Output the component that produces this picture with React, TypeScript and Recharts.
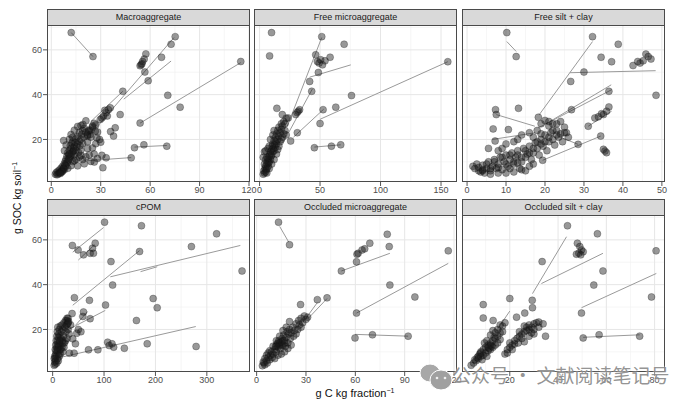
import * as React from "react";
import { ScatterChart, Scatter, XAxis, YAxis, CartesianGrid, ReferenceLine } from "recharts";

type P = [number, number];
type Seg = [number, number, number, number];

// ---- Macroaggregate ----
const macroPoints: P[] = [
  [12.1, 67.7], [25.3, 57.0], [75.2, 65.9], [72.7, 62.5], [66.9, 56.7], [57.4, 58.2], [56.4, 55.9], [55.4, 54.8],
  [54.5, 53.3], [53.9, 52.9], [55.0, 53.8], [56.8, 50.1], [58.8, 46.2], [115, 54.8], [70.7, 39.7], [78.2, 34.4],
  [53.9, 27.3], [43.4, 41.5], [41.8, 31.1], [38.8, 25.2], [50.5, 16.3], [56.2, 17.6], [70.1, 17.0], [48.5, 11.8],
  [33.3, 11.8], [31.3, 7.4], [26.1, 9.9], [30.7, 12.9], [19.2, 26.7],
  [34.7, 33.3], [33.3, 31.9], [35.8, 34.1], [31.7, 30.4], [30.7, 29.6], [29.7, 28.9], [32.5, 33.0], [34.0, 30.5],
  [28.1, 23.3], [26.7, 23.7], [24.0, 24.1], [22.6, 23.7], [23.6, 22.2], [22.0, 21.5], [27.7, 20.7], [29.3, 20.0],
  [37.8, 21.5], [36.0, 23.5], [25.0, 25.5], [27.0, 26.5],
  [2.5, 4.5], [3, 5.2], [3.5, 4.2], [4, 5.8], [4.2, 4.6], [4.8, 5.1], [5, 6.4], [5.5, 5.2], [6, 5.6], [6, 7.2],
  [6.5, 6.2], [7, 6.0], [7, 8.1], [7.5, 7.3], [8, 9.2], [8, 6.6], [8.5, 10.3], [9, 8.1], [9, 11.2], [9.5, 12.6],
  [10, 10.2], [10, 14.1], [10.5, 13.1], [11, 15.2], [11, 11.6], [11.5, 17.2], [12, 13.0], [12, 16.1], [12.5, 18.3],
  [13, 14.6], [13, 19.1], [13.5, 16.2], [14, 17.1], [14, 13.2], [14.5, 18.6], [15, 20.2], [15, 15.1], [15.5, 16.6],
  [16, 18.1], [16, 21.3], [16.5, 14.2], [17, 19.2], [17, 23.1], [17.5, 17.2], [18, 20.1], [18, 15.2], [18.5, 22.3],
  [19, 24.0], [19, 18.2], [20, 21.1], [20, 25.0], [21, 23.2], [22, 22.1], [22, 19.0], [23, 24.2], [24, 21.0],
  [25, 26.0], [26, 27.2],
  [13, 10.1], [15, 11.2], [17, 12.1], [19, 11.0], [21, 12.3], [23, 13.1], [24, 10.2], [20, 9.1], [16, 8.2],
  [12, 8.3], [10, 7.1], [22, 16.0], [25, 16.2], [27, 18.1], [30, 18.8], [18, 12.8], [14, 10.5], [26, 13.5], [28, 11.5],
  [7.5, 19.5], [9, 17.5], [11, 20.1], [12, 22.2], [14, 24.1], [16, 25.8], [18, 26.2], [21, 28.3], [13, 21.0], [8, 15.0],
  [9.5, 9.5], [10.5, 11], [11.5, 12.5], [12.5, 14], [8.5, 8.5], [7.5, 7.0], [6.5, 5.5], [5.5, 4.8], [13.5, 15], [11, 13.5],
];
const macroLines: Seg[] = [
  [12.1, 67.7, 25.3, 57.0],
  [27, 25, 74.5, 65.5],
  [44, 38, 72.7, 55],
  [53.9, 27.3, 115, 54.3],
  [50.5, 16.6, 70.1, 17.3],
  [20, 10.4, 48.5, 11.9],
  [24, 28, 43.4, 41.5],
];

// ---- Free microaggregate ----
const freeMicroPoints: P[] = [
  [9.9, 67.7], [8.3, 57.3], [51.4, 65.9], [69.9, 62.5], [46.4, 57.8], [50.5, 55.6], [49.2, 54.1], [52, 53.3],
  [47.8, 54.8], [54.1, 55.1], [58.3, 56.7], [48.6, 49.9], [41.4, 45.9], [43.1, 41.5], [76, 39.6], [155.6, 54.7],
  [14.3, 33.9], [18.8, 31.1], [23.7, 29.6], [29.9, 31.1], [32, 32.6], [33.1, 33.3], [31, 32], [52.5, 33.3],
  [63, 34.4], [50, 27.1], [31.2, 23], [25.7, 19.3], [45.3, 16.3], [59.4, 17], [67.1, 17.6],
  [3, 4.5], [3.5, 6], [4, 5], [4.5, 7], [5, 5.5], [5, 8], [5.5, 6.5], [6, 9], [6, 7], [6.5, 10], [7, 8], [7, 11.5],
  [7.5, 9.5], [8, 12.5], [8, 10], [8.5, 13.5], [9, 11], [9, 14.5], [9.5, 12.5], [10, 15.5], [10, 13], [10.5, 17],
  [11, 14.5], [11, 18], [11.5, 16], [12, 19.5], [12, 15], [12.5, 17.5], [13, 21], [13, 16.5], [13.5, 19], [14, 22.5],
  [14, 18], [15, 20], [15, 24], [16, 21.5], [16, 25.5], [17, 23], [18, 24.5], [18, 27], [19, 26], [20, 28], [21, 27],
  [22, 29.5], [4, 9], [5, 11], [6, 12], [3, 12], [4, 14.5], [5, 15], [7, 16], [8, 17], [9, 20], [11, 22], [12, 24],
  [17, 19], [19, 21], [21, 24], [22, 22], [10, 9], [12, 11], [14, 13.5], [15, 15.5], [16, 17], [18, 20], [20, 22.5],
  [6, 5], [8, 7],
];
const freeMicroLines: Seg[] = [
  [23, 26, 51.4, 65.5],
  [41.4, 47.8, 75.4, 53.3],
  [24, 23, 43.6, 42.5],
  [28, 21, 53, 33.5],
  [50, 29, 155.6, 54.7],
  [45.3, 16.6, 67.1, 17.6],
];

// ---- Free silt + clay ----
const freeSiltPoints: P[] = [
  [10.2, 67.7], [12.6, 57], [32.2, 65.9], [38.8, 62.5], [34.4, 56.7], [37.1, 54.7], [45.9, 58.1], [47.2, 55.9],
  [43.8, 54.8], [44.4, 54.1], [42.6, 53], [45.2, 55.1], [46.5, 57], [30, 50.1], [26.6, 45.9], [48.5, 39.7],
  [36.4, 41.5], [13.2, 33.9], [7.3, 33.3], [7.5, 31.1], [26.8, 33.3], [36.4, 34.5], [35.8, 32.6], [35, 31.1],
  [33.7, 30.1], [32.8, 29.6], [34.5, 31.5], [18.3, 29.9], [31.1, 25.9], [34.3, 21.5], [35, 15.6], [35.4, 14.8],
  [35.8, 14.1], [28.5, 17.8], [19.4, 10.7], [6.7, 24.7], [10.6, 24.4], [5.5, 16], [7.2, 19.3],
  [1.5, 8], [2, 7], [2.5, 9], [3, 6], [3.5, 5.5], [4, 8.5], [4.5, 5], [5, 7], [5.5, 10], [6, 6], [6.5, 8], [7, 11],
  [7.5, 7], [8, 9], [8.5, 12], [9, 6.5], [9.5, 10], [10, 13], [10.5, 8], [11, 11], [11.5, 14], [12, 9], [12.5, 12],
  [13, 15], [13.5, 7], [14, 10], [14.5, 16], [15, 12], [15.5, 13.5], [16, 17], [16.5, 11], [17, 14], [17.5, 18.5],
  [18, 16], [18.5, 13], [19, 20], [19.5, 17], [20, 22], [20.5, 15], [21, 19], [21.5, 23], [22, 20], [22.5, 17.5],
  [23, 24], [23.5, 21], [24, 22.5], [24.5, 19], [25, 25.5], [25.5, 23], [26, 21], [14, 6.5], [15, 6], [12, 5.5],
  [10, 5], [8, 5], [6, 4.5], [4, 6.5], [17, 9], [16, 8], [13, 9.5], [11, 7], [18, 24], [16, 23], [14, 22], [13, 20],
  [12, 19], [10, 18], [9, 16], [8, 15], [17, 21], [19, 22.5], [21, 26], [23, 27], [24, 28],
  [3, 7.5], [5, 9], [7, 10], [9, 12], [11, 13], [13, 13], [15, 15], [17, 16], [19, 18], [21, 21], [23, 22], [25, 23],
  [20, 19], [22, 24], [18, 19], [16, 14], [14, 12], [12, 10], [10, 9], [8, 7.5], [6, 7], [4, 6],
  [19, 27], [20, 28.5], [21, 28], [22, 27],
];
const freeSiltLines: Seg[] = [
  [10.2, 63.7, 12.6, 59.3],
  [18.5, 31, 32.2, 63.7],
  [26.4, 49.8, 48.4, 50.7],
  [7.5, 31.1, 17.4, 25.9],
  [20, 26.7, 37, 44.4],
  [18.3, 25.2, 37.1, 42.2],
  [19.4, 10.7, 34.3, 21.5],
  [31.1, 25.9, 37.1, 32.6],
  [6.5, 20, 17.5, 23],
  [24, 21, 28.5, 17.8],
];

// ---- cPOM ----
const cpomPoints: P[] = [
  [101, 67.9], [172.8, 66.3], [319, 62.7], [270, 57], [38.4, 57.5], [49.5, 55.5], [60, 53.3], [73, 54], [79.4, 54],
  [77.6, 56.3], [82.8, 58.5], [169.1, 54.8], [113.5, 50.3], [368.5, 46.1], [116.7, 39.8], [42.3, 34.2], [71.6, 33],
  [102.9, 30.9], [195.6, 33.8], [203.4, 29.7], [37.8, 27.1], [58.7, 25.8], [60, 27.8], [72.9, 24.8], [163, 24],
  [279.1, 12.4], [184, 13.6], [139.5, 11.6], [107, 14.3], [110, 12.8], [118.7, 12.1], [115.5, 13.6], [88, 10.9],
  [69.7, 10.9], [46.9, 18.3], [39.1, 15.8], [44.3, 13.6], [32.6, 9.4], [41.8, 9.4], [50, 20], [55, 19], [35, 22], [30, 20],
  [3, 4], [4, 5.5], [5, 7], [5, 4.5], [6, 9], [6, 6], [7, 10.5], [7, 8], [8, 12], [8, 5], [9, 13.5], [9, 10], [10, 15],
  [10, 7], [11, 16.5], [11, 12], [12, 18], [12, 9], [13, 14], [13, 20], [14, 11], [14, 17], [15, 21.5], [15, 13],
  [16, 16], [17, 19], [18, 22], [18, 12], [19, 15], [20, 20], [21, 17], [22, 23], [23, 14], [24, 21], [25, 24],
  [26, 19], [27, 22], [28, 25], [30, 23], [32, 18], [6, 13], [7, 15], [8, 17], [9, 19], [10, 21], [4, 8], [5, 11],
  [3, 7], [10, 11], [12, 13], [14, 15], [16, 11], [20, 10], [22, 12], [25, 15], [28, 16], [20, 14], [11, 6], [13, 8],
  [15, 9], [28, 24], [30, 25], [29, 22.5], [31, 23.5],
];
const cpomLines: Seg[] = [
  [39.1, 54.5, 99.1, 65.5],
  [50, 51, 81.4, 57.8],
  [39.1, 30.8, 169.1, 55.2],
  [112.2, 43.5, 365.2, 57.5],
  [171, 45.8, 203.5, 48],
  [20.8, 7.8, 278.5, 21.3],
  [27.4, 19.6, 102.4, 28.5],
  [45, 22, 68, 28],
];

// ---- Occluded microaggregate ----
const occMicroPoints: P[] = [
  [13.3, 67.9], [20, 57.8], [79.4, 62.5], [68.8, 58.5], [65.7, 56], [64.1, 55.5], [61, 53.6], [61.7, 54], [60.7, 50.2],
  [80.6, 57], [51.5, 46.1], [116.5, 55.1], [81, 39.8], [96.2, 34.5], [60.7, 27.3], [59.8, 16.2], [70.4, 17.6],
  [92.1, 17], [42.8, 34.1], [36.9, 33.3], [26.7, 31.1],
  [3.5, 3.8], [4.5, 5], [5, 4.2], [6, 6], [6.5, 5], [7, 7.5], [8, 6.5], [8.5, 8.5], [9, 10], [9.5, 7.5], [10, 9],
  [11, 11], [11.5, 12.5], [12, 10], [12.5, 13.5], [13, 12], [13.5, 15], [14, 13], [14.5, 11.5], [15, 14.5],
  [15.5, 16], [16, 13], [16.5, 17.5], [17, 15], [17.5, 12.5], [18, 16.5], [18.5, 19], [19, 14], [19.5, 18], [20, 20],
  [20.5, 16], [21, 18.5], [22, 21], [22.5, 17], [23, 19.5], [24, 22.5], [25, 20], [25.5, 24], [26, 22], [27, 25],
  [28, 23], [29, 26], [30, 24.5], [31, 25.5], [27, 21], [24, 18], [21, 13], [19, 11.5], [17, 10], [15, 9], [13, 8.5],
  [11, 7], [10, 12.5], [12, 15], [14, 17], [16, 19.5], [18, 21], [20, 23.5], [14, 14], [15, 13], [16, 15], [17, 14],
  [13, 14], [12, 12.5], [8, 10.5], [7, 9.5], [6, 8.5], [5, 7], [4, 5.5],
];
const occMicroLines: Seg[] = [
  [14, 66, 19.5, 59],
  [51.5, 46.1, 81, 54],
  [60.7, 27.3, 116.5, 49.5],
  [59.8, 17.8, 92.1, 17],
  [31.2, 24.8, 42.8, 33.8],
  [27, 22, 36.9, 32],
];

// ---- Occluded silt + clay ----
const occSiltPoints: P[] = [
  [43.9, 66.3], [56.3, 62.7], [80.6, 55.1], [48, 58.5], [49, 57], [49.7, 55.5], [48.6, 54], [50.4, 54.7], [47.6, 53.6],
  [49.4, 53.3], [58.6, 46.1], [33.4, 50.3], [54.8, 39.8], [78.7, 34.5], [49.7, 27.3], [50.4, 16.2], [57, 17.6],
  [73.8, 17], [29.3, 33], [29.4, 29.7], [20, 33.8], [9, 31.1], [9, 25.1], [13.1, 24], [32, 23.3], [33.8, 22.5],
  [34.8, 17], [26.2, 27.3], [22.8, 25.5],
  [4, 4], [5, 5], [5.5, 6.5], [6, 6], [6.5, 7.5], [7, 7], [7.5, 9], [8, 10], [8, 8], [8.5, 6.5], [9, 11], [9, 8.5],
  [10, 12], [10, 9.5], [10.5, 8], [11, 13], [11, 10.5], [11.5, 11.5], [12, 14], [12, 11], [12.5, 12.5], [13, 15],
  [13, 12], [13.5, 16.5], [14, 16], [14, 13], [15, 17], [15, 14], [16, 18.5], [16, 15.5], [17, 19], [9.5, 14],
  [10.5, 15], [12, 17.5], [13, 19.5], [15, 20], [17, 21.5], [18, 23], [16, 22], [14, 18.5], [8, 9.5], [7, 8],
  [12, 13], [11, 12],
  [18, 9], [19, 11], [20, 12], [21, 13], [22, 13.5], [22, 15], [23, 16], [23.5, 14], [24, 17], [25, 16], [25, 18],
  [26, 19], [26, 14.5], [27, 19.5], [27, 21], [28, 20], [28, 22], [28, 17], [29, 21], [30, 22.5], [30, 20], [31, 23],
  [30, 18], [24, 19], [26, 21.5], [29, 18.5], [32, 21], [21, 11], [20, 14], [19, 9.5],
];
const occSiltLines: Seg[] = [
  [29.4, 36, 43.5, 61.4],
  [33.1, 40.5, 58.6, 54],
  [49.7, 29.7, 80.7, 45],
  [50.4, 16.5, 73.8, 17.6],
  [14.5, 19.5, 20, 28.2],
  [22, 17, 31, 23],
];

const FONT = '"Liberation Sans", Arial, Helvetica, sans-serif';
const Y_DOMAIN: [number, number] = [1, 71.1];
const Y_TICKS = [20, 40, 60];
const Y_MINOR = [10, 30, 50, 70];

// facet geometry (px)
const COL_X = [47, 254, 462];
const ROW_Y = [25, 215];
const PW = 203;
const PH = 157;
const STRIP = 16;
const AXW = 40;
const PAD_R = 14;
const AXH = 24;

type Facet = {
  title: string;
  pts: P[];
  segs: Seg[];
  domain: [number, number];
  ticks: number[];
  minor: number[];
  col: number;
  row: number;
};

const facets: Facet[] = [
  { title: "Macroaggregate", pts: macroPoints, segs: macroLines, domain: [-2.6, 120.6], ticks: [0, 30, 60, 90, 120], minor: [15, 45, 75, 105], col: 0, row: 0 },
  { title: "Free microaggregate", pts: freeMicroPoints, segs: freeMicroLines, domain: [-4.6, 163.2], ticks: [0, 50, 100, 150], minor: [25, 75, 125], col: 1, row: 0 },
  { title: "Free silt + clay", pts: freeSiltPoints, segs: freeSiltLines, domain: [-1.3, 50.8], ticks: [0, 10, 20, 30, 40, 50], minor: [5, 15, 25, 35, 45], col: 2, row: 0 },
  { title: "cPOM", pts: cpomPoints, segs: cpomLines, domain: [-11, 384], ticks: [0, 100, 200, 300], minor: [50, 150, 250, 350], col: 0, row: 1 },
  { title: "Occluded microaggregate", pts: occMicroPoints, segs: occMicroLines, domain: [-1.6, 121.8], ticks: [0, 30, 60, 90, 120], minor: [15, 45, 75, 105], col: 1, row: 1 },
  { title: "Occluded silt + clay", pts: occSiltPoints, segs: occSiltLines, domain: [0.2, 84.3], ticks: [20, 40, 60, 80], minor: [10, 30, 50, 70], col: 2, row: 1 },
];

const dot = (p: any) => (
  <circle cx={p.cx} cy={p.cy} r={3.5} fill="#1a1a1a" fillOpacity={0.45} stroke="#111" strokeOpacity={0.35} strokeWidth={0.8} />
);

function FacetPanel({ f }: { f: Facet }) {
  const left = COL_X[f.col];
  const top = ROW_Y[f.row];
  const first = f.col === 0;
  const data = f.pts.map(([x, y]) => ({ x, y }));
  const w = AXW + PW + PAD_R;
  const h = PH + AXH;
  return (
    <>
      <div style={{ position: "absolute", left: left - AXW, top, width: w, height: h }}>
        <ScatterChart width={w} height={h} margin={{ top: 0, right: PAD_R, bottom: 0, left: first ? 0 : AXW }}>
          <CartesianGrid stroke="#F0F0F0" strokeWidth={0.6} horizontalValues={Y_MINOR} verticalValues={f.minor} />
          <CartesianGrid stroke="#E6E6E6" strokeWidth={1} horizontalValues={Y_TICKS} verticalValues={f.ticks} />
          <XAxis
            type="number"
            dataKey="x"
            domain={f.domain}
            ticks={f.ticks}
            interval={0}
            allowDataOverflow
            height={AXH}
            axisLine={false}
            tickSize={4}
            tickMargin={1}
            tickLine={{ stroke: "#555" }}
            tick={{ fontSize: 9, fill: "#4D4D4D", fontFamily: FONT }}
          />
          <YAxis
            type="number"
            dataKey="y"
            hide={!first}
            width={AXW}
            domain={Y_DOMAIN}
            ticks={Y_TICKS}
            interval={0}
            allowDataOverflow
            axisLine={false}
            tickSize={4}
            tickMargin={1}
            tickLine={{ stroke: "#555" }}
            tick={{ fontSize: 9, fill: "#4D4D4D", fontFamily: FONT }}
          />
          <Scatter data={data} shape={dot} isAnimationActive={false} />
          {f.segs.map(([x1, y1, x2, y2], i) => (
            <ReferenceLine
              key={i}
              segment={[{ x: x1, y: y1 }, { x: x2, y: y2 }]}
              stroke="#9a9a9a"
              strokeWidth={1}
              ifOverflow="visible"
            />
          ))}
        </ScatterChart>
      </div>
      <div
        style={{
          position: "absolute", left, top, width: PW, height: PH,
          border: "1px solid #4a4a4a", boxSizing: "border-box", pointerEvents: "none",
        }}
      />
      <div
        style={{
          position: "absolute", left, top: top - STRIP, width: PW, height: STRIP + 1,
          background: "#D9D9D9", border: "1px solid #4a4a4a", boxSizing: "border-box",
          fontFamily: FONT, fontSize: 9, color: "#1a1a1a", textAlign: "center", lineHeight: `${STRIP - 1}px`,
        }}
      >
        {f.title}
      </div>
    </>
  );
}

export default function App() {
  return (
    <div style={{ position: "absolute", left: 0, top: 0, width: 692, height: 404, background: "#fff", overflow: "hidden", fontFamily: FONT }}>
      {facets.map((f) => (
        <FacetPanel key={f.title} f={f} />
      ))}
      <div
        style={{
          position: "absolute", left: 17, top: 198, transform: "translate(-50%, -50%) rotate(-90deg)",
          whiteSpace: "nowrap", fontSize: 10.5, color: "#111",
        }}
      >
        g SOC kg soil<sup style={{ fontSize: 7 }}>−1</sup>
      </div>
      <div
        style={{
          position: "absolute", left: 355, top: 393, transform: "translate(-50%, -50%)",
          whiteSpace: "nowrap", fontSize: 11, color: "#111",
        }}
      >
        g C kg fraction<sup style={{ fontSize: 7 }}>−1</sup>
      </div>
      {/* watermark */}
      <svg style={{ position: "absolute", left: 418, top: 362 }} width={36} height={30}>
        <ellipse cx={12} cy={11} rx={10} ry={9} fill="#a8a8a8" stroke="#fff" strokeWidth={1} />
        <ellipse cx={23} cy={18} rx={11} ry={10} fill="#a0a0a0" stroke="#fff" strokeWidth={1} />
        <circle cx={19} cy={16} r={1.3} fill="#eee" />
        <circle cx={27} cy={16} r={1.3} fill="#eee" />
      </svg>
      <div
        style={{
          position: "absolute", left: 452, top: 363, whiteSpace: "nowrap",
          fontFamily: '"Noto Sans CJK SC", sans-serif', fontSize: 19, lineHeight: "24px",
          color: "rgba(120,120,120,0.8)", textShadow: "0 0 2px #fff",
        }}
      >
        公众号 · 文献阅读笔记号
      </div>
    </div>
  );
}
